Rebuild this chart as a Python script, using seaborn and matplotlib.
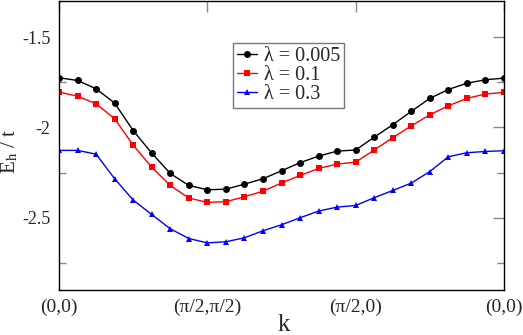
import numpy as np
import pandas as pd
import matplotlib
matplotlib.use("Agg")
import matplotlib.pyplot as plt
import seaborn as sns
from matplotlib.ticker import MultipleLocator

k_index = list(range(25))
tick_pos = [0, 8, 16, 24]
tick_labels = ["(0,0)", "(\u03c0/2,\u03c0/2)", "(\u03c0/2,0)", "(0,0)"]

lam_0005 = [-1.725, -1.74, -1.786, -1.865, -2.017, -2.142, -2.255, -2.321, -2.345,
            -2.342, -2.314, -2.284, -2.24, -2.195, -2.159, -2.131, -2.125, -2.054,
            -1.985, -1.911, -1.839, -1.79, -1.755, -1.736, -1.727]
lam_01 = [-1.804, -1.827, -1.869, -1.952, -2.098, -2.22, -2.321, -2.391, -2.415,
          -2.411, -2.384, -2.353, -2.308, -2.266, -2.227, -2.203, -2.192, -2.125,
          -2.057, -1.991, -1.93, -1.88, -1.839, -1.815, -1.806]
lam_03 = [-2.127, -2.127, -2.148, -2.284, -2.402, -2.482, -2.561, -2.615, -2.639,
          -2.633, -2.611, -2.572, -2.539, -2.5, -2.463, -2.441, -2.432, -2.389,
          -2.349, -2.308, -2.244, -2.162, -2.14, -2.133, -2.129]

labels = ["\u03bb = 0.005", "\u03bb = 0.1", "\u03bb = 0.3"]
df = pd.DataFrame({
    "k": k_index * 3,
    "E": lam_0005 + lam_01 + lam_03,
    "series": [labels[0]] * 25 + [labels[1]] * 25 + [labels[2]] * 25,
})

sns.set_style("white")
plt.rcParams["font.family"] = ["Liberation Serif", "DejaVu Serif"]
plt.rcParams["mathtext.fontset"] = "stix"

fig = plt.figure(figsize=(5.23, 3.35), dpi=100)
ax = fig.add_axes([59 / 523, 1 - 290 / 335, (504 - 59) / 523, (290 - 1) / 335])

palette = {labels[0]: "black", labels[1]: "red", labels[2]: "blue"}
markers = {labels[0]: "o", labels[1]: "s", labels[2]: "^"}
sns.lineplot(data=df, x="k", y="E", hue="series", style="series",
             palette=palette, markers=markers, dashes=False,
             markersize=5, linewidth=1.0, markeredgewidth=0, ax=ax)

ax.set_xlim(0, 24)
ax.set_ylim(-2.9, -1.3)
ax.set_xticks(tick_pos)
ax.set_xticklabels(tick_labels, fontsize=14)
ax.yaxis.set_minor_locator(MultipleLocator(0.25))
ax.set_yticks([-1.5, -2.0, -2.5])
ax.set_yticklabels(["-1.5", "-2", "-2.5"], fontsize=13)
ax.tick_params(axis="both", which="major", direction="in", length=8, width=1,
               color="#888888", top=True, right=True, pad=6)
ax.tick_params(axis="y", which="minor", direction="in", length=5, width=1,
               color="#888888", left=True, right=True)
for s in ax.spines.values():
    s.set_color("black")
    s.set_linewidth(1.0)

ax.set_xlabel("k", fontsize=18, va="center")
ax.xaxis.set_label_coords(0.505, -0.121)
ax.set_ylabel(r"E$_{\rm h}$ / t", fontsize=15, va="center")
ax.yaxis.set_label_coords(-0.11, 0.48)

leg = ax.legend(loc="upper left", bbox_to_anchor=(0.391, 0.855), fontsize=14.5,
                frameon=True, fancybox=False, handlelength=1.0,
                borderpad=0.2, labelspacing=0.0, handletextpad=0.35,
                borderaxespad=0)
leg.get_frame().set_edgecolor("#555555")
leg.get_frame().set_linewidth(1.0)

fig.savefig("out.png", dpi=100)
